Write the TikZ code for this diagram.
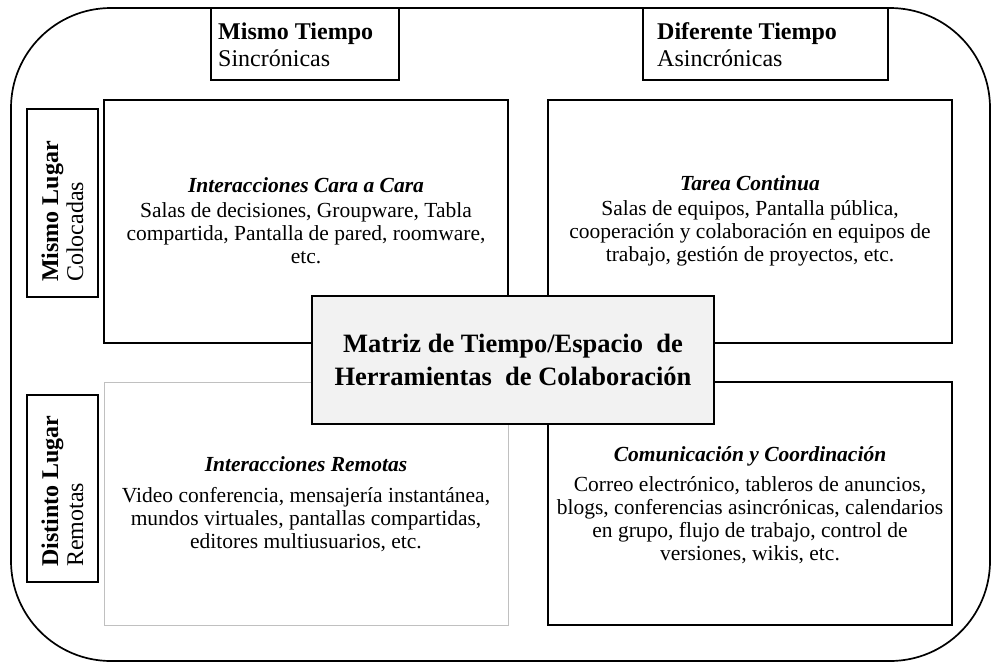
\documentclass[tikz,border=0pt]{standalone}
\usepackage{fontspec}
\setmainfont{Liberation Serif}
\definecolor{lightfill}{HTML}{F2F2F2}
\definecolor{graybox}{HTML}{C0C0C0}
\begin{document}
\begin{tikzpicture}[x=1pt,y=-1pt,
  frame/.style={draw=black, line width=1.7pt, rounded corners=100pt, minimum width=979pt, minimum height=653pt, inner sep=0pt, outer sep=0pt},
  quad/.style={draw=black, line width=1.7pt, minimum width=404pt, minimum height=243pt, inner sep=0pt, outer sep=0pt, anchor=north west},
  quadgray/.style={quad, draw=graybox, line width=1pt},
  lbl/.style={draw=black, line width=1.7pt, inner sep=0pt, outer sep=0pt, anchor=north west},
  ltxt/.style={inner sep=0pt, anchor=base west, font=\fontsize{24}{27}\selectfont},
  vtxt/.style={ltxt, rotate=90},
  qtxt/.style={inner sep=0pt, align=center, font=\fontsize{21.5}{23}\selectfont},
  center/.style={draw=black, line width=1.7pt, fill=lightfill, minimum width=402pt, minimum height=128pt, inner sep=0pt, align=center, font=\fontsize{26.5}{33}\selectfont\bfseries}
]
\useasboundingbox (0,0) rectangle (992,664);
\node[frame] (frame) at (500.5,334.5) {};
% top labels
\node[lbl, minimum width=188pt, minimum height=72pt] (mt) at (211,8) {};
\node[ltxt] (mt1) at (218,39) {\textbf{Mismo Tiempo}};
\node[ltxt] (mt2) at (218,66) {Sincrónicas};
\node[lbl, minimum width=245pt, minimum height=72pt] (dt) at (643,8) {};
\node[ltxt] (dt1) at (657,39) {\textbf{Diferente Tiempo}};
\node[ltxt] (dt2) at (657,66) {Asincrónicas};
% left labels
\node[lbl, minimum width=71pt, minimum height=188pt] (ml) at (27,109) {};
\node[vtxt] (ml1) at (58,282) {\textbf{Mismo Lugar}};
\node[vtxt] (ml2) at (83,282) {Colocadas};
\node[lbl, minimum width=71pt, minimum height=187pt] (dl) at (27,395) {};
\node[vtxt] (dl1) at (58,567) {\textbf{Distinto Lugar}};
\node[vtxt] (dl2) at (83,567) {Remotas};
% quadrants
\node[quad] (tl) at (104,100) {};
\node[quad] (tr) at (548,100) {};
\node[quadgray] (bl) at (104,382) {};
\node[quad] (br) at (548,382) {};
\node[qtxt] (tlt) at (306,221) {\textbf{\textit{Interacciones Cara a Cara}}\\[2pt]
  Salas de decisiones, Groupware, Tabla\\
  compartida, Pantalla de pared, roomware,\\
  etc.};
\node[qtxt] (trt) at (750,221) {\textbf{\textit{Tarea Continua}}\\[2pt]
  Salas de equipos, Pantalla pública,\\
  cooperación y colaboración en equipos de\\
  trabajo, gestión de proyectos, etc.};
\node[qtxt] (blt) at (306,504) {\textbf{\textit{Interacciones Remotas}}\\[8pt]
  Video conferencia, mensajería instantánea,\\
  mundos virtuales, pantallas compartidas,\\
  editores multiusuarios, etc.};
\node[qtxt] (brt) at (750,505) {\textbf{\textit{Comunicación y Coordinación}}\\[7pt]
  Correo electrónico, tableros de anuncios,\\
  blogs, conferencias asincrónicas, calendarios\\
  en grupo, flujo de trabajo, control de\\
  versiones, wikis, etc.};
% centre
\node[center] (mid) at (513,360) {Matriz de Tiempo/Espacio\ \ de\\Herramientas\ \ de Colaboración};
\end{tikzpicture}
\end{document}
